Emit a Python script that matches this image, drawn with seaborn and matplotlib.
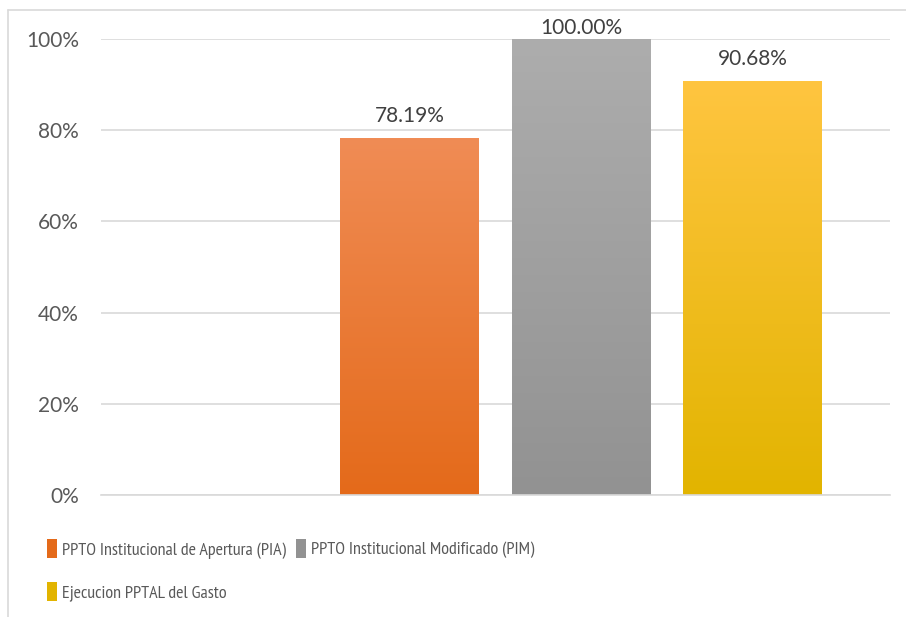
import matplotlib
matplotlib.use("Agg")
import matplotlib.pyplot as plt
import numpy as np
import pandas as pd
import seaborn as sns
from matplotlib.colors import LinearSegmentedColormap
from matplotlib.lines import Line2D
from matplotlib.patches import Patch

# data
categories = ["", "PPTO Institucional de Apertura (PIA)",
              "PPTO Institucional Modificado (PIM)", "Ejecucion PPTAL del Gasto"]
values = [np.nan, 78.19, 100.00, 90.68]
value_labels = ["", "78.19%", "100.00%", "90.68%"]
y_ticks = [0, 20, 40, 60, 80, 100]
y_tick_labels = ["0%", "20%", "40%", "60%", "80%", "100%"]

# gradient colours (top, bottom)
grad_colors = [None, ("#F08C55", "#E46A1A"), ("#ADADAD", "#929292"), ("#FFC540", "#E2B400")]

df = pd.DataFrame({"cat": categories, "val": values})

sns.set_style("white")
plt.rcParams["font.family"] = ["Lato", "DejaVu Sans"]

fig = plt.figure(figsize=(9.06, 6.17), dpi=100)
W, H = 906, 617
ax = fig.add_axes([101 / W, 1 - 495 / H, (890 - 101) / W, (495 - 39) / H])

sns.barplot(data=df, x="cat", y="val", order=categories, width=0.81,
            color="#FFFFFF", ax=ax, errorbar=None)

# gradient fill clipped to each bar (match bar to category by its centre)
for bar in list(ax.patches):
    x0, y0 = bar.get_x(), bar.get_y()
    w, h = bar.get_width(), bar.get_height()
    i = int(round(x0 + w / 2))
    if grad_colors[i] is None or np.isnan(values[i]):
        continue
    top, bottom = grad_colors[i]
    cmap = LinearSegmentedColormap.from_list("g%d" % i, [bottom, top])
    grad = np.linspace(0, 1, 256).reshape(-1, 1)
    im = ax.imshow(grad, cmap=cmap, origin="lower", aspect="auto",
                   extent=[x0, x0 + w, y0, y0 + h], zorder=2)
    im.set_clip_path(bar)
    bar.set_edgecolor("none")
    # label above bar, kept inside the chart area like Excel does
    ypos = min(y0 + h + 5.0, 102.4)
    ax.text(x0 + w / 2, ypos, value_labels[i], ha="center", va="center",
            fontsize=15, color="#404040", zorder=3, clip_on=False)

ax.set_xlim(-0.80, 3.80)
ax.set_ylim(0, 100)
ax.set_yticks(y_ticks)
ax.set_yticklabels(y_tick_labels)
ax.set_xticks([])
ax.set_xlabel("")
ax.set_ylabel("")
ax.tick_params(axis="y", length=0, pad=16, labelsize=15, labelcolor="#595959")
ax.yaxis.grid(True, color="#D9D9D9", linewidth=1.2)
ax.set_axisbelow(True)
for s in ["left", "right", "top"]:
    ax.spines[s].set_visible(False)
ax.spines["bottom"].set_color("#D9D9D9")
ax.spines["bottom"].set_linewidth(1.2)

# legend: row 1 -> PIA, PIM ; row 2 -> Ejecucion
handles = [Patch(facecolor=grad_colors[i][1], edgecolor="none") for i in range(1, 4)]
labels = categories[1:]
order = [0, 2, 1]
leg = fig.legend([handles[k] for k in order], [labels[k] for k in order],
                 ncol=2, loc="upper left", bbox_to_anchor=(31 / W, 1 - 523 / H),
                 frameon=False, handlelength=0.55, handleheight=1.2,
                 handletextpad=0.25, columnspacing=0.6, labelspacing=1.3,
                 prop={"family": ["PT Sans Narrow", "Lato"], "size": 13})
for t in leg.get_texts():
    t.set_color("#595959")

# chart area border (left and top only visible)
fig.add_artist(Line2D([8 / W, 8 / W], [0, 1 - 10 / H], transform=fig.transFigure,
                      color="#D9D9D9", linewidth=1.2))
fig.add_artist(Line2D([8 / W, 1], [1 - 10 / H, 1 - 10 / H], transform=fig.transFigure,
                      color="#D9D9D9", linewidth=1.2))

fig.savefig("out.png", dpi=100)
plt.close(fig)
